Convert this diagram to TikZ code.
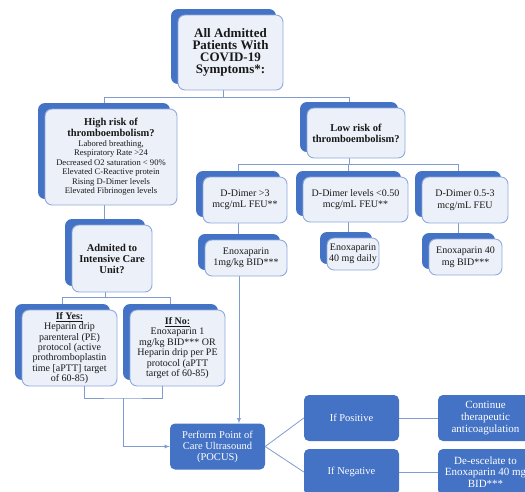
\documentclass[tikz,border=0pt]{standalone}
\usepackage{fontspec}
\setmainfont{Liberation Serif}
\definecolor{tabblue}{RGB}{68,114,196}
\definecolor{cardfill}{RGB}{236,240,248}
\definecolor{cardline}{RGB}{143,170,220}
\definecolor{linkblue}{RGB}{127,155,208}
\newcommand{\hd}[1]{{\fontsize{10.5}{11}\selectfont\bfseries #1}}

\begin{document}
\begin{tikzpicture}[x=1pt,y=-1pt,
    tab/.style={fill=tabblue,rounded corners=7pt,inner sep=0pt},
    card/.style={fill=cardfill,draw=cardline,line width=0.9pt,rounded corners=7pt,inner sep=0pt,align=center,text=black!90},
    fillbox/.style={fill=tabblue,rounded corners=5pt,inner sep=0pt,align=center,text=white,minimum width=95pt,minimum height=46pt,font=\fontsize{10.5}{11}\selectfont},
    link/.style={draw=linkblue,line width=0.8pt},
    >=latex]
    \useasboundingbox (0,0) rectangle (525,491);
    \clip (0,0) rectangle (525,491);

    \node[tab,minimum width=105pt,minimum height=75pt] (toptab) at (223.5,46.5) {};
    \node[tab,minimum width=132pt,minimum height=96pt] (hightab) at (104,151) {};
    \node[tab,minimum width=98pt,minimum height=50pt] (lowtab) at (349,127) {};
    \node[tab,minimum width=80pt,minimum height=67pt] (icutab) at (105,252.5) {};
    \node[tab,minimum width=95pt,minimum height=76pt] (yestab) at (62.5,342) {};
    \node[tab,minimum width=95pt,minimum height=76pt] (notab) at (170.5,342) {};
    \node[tab,minimum width=84pt,minimum height=46pt] (dhightab) at (238,194) {};
    \node[tab,minimum width=105pt,minimum height=45pt] (dlowtab) at (348.5,193.5) {};
    \node[tab,minimum width=86pt,minimum height=46pt] (dmidtab) at (458,194) {};
    \node[tab,minimum width=82pt,minimum height=36pt] (enoxatab) at (239,252) {};
    \node[tab,minimum width=52pt,minimum height=32pt] (enoxbtab) at (346,248) {};
    \node[tab,minimum width=73pt,minimum height=36pt] (enoxctab) at (458.5,251) {};

    \node[fillbox] (pocus) at (217.5,446.5) {Perform Point of\\Care Ultrasound\\(POCUS)};
    \node[fillbox] (pos) at (351.5,418) {If Positive};
    \node[fillbox] (neg) at (351.5,472) {If Negative};
    \node[fillbox,font=\fontsize{11}{11.7}\selectfont] (cont) at (485.5,418) {Continue\\therapeutic\\anticoagulation};
    \node[fillbox,font=\fontsize{11}{11.7}\selectfont] (desc) at (485.5,472) {De-escelate to\\Enoxaparin 40 mg\\BID***};

    \draw[link] (toptab.south) -- ++(0,13) -| (hightab.north);
    \draw[link] (toptab.south) -- ++(0,13) -| (lowtab.north);
    \draw[link] (hightab.south) -- (hightab.south |- icutab.north);
    \draw[link] (icutab.south) -- ++(0,11) -| (yestab.north);
    \draw[link] (icutab.south) -- ++(0,11) -| (notab.north);
    \draw[link] (lowtab.south) -- ++(0,12) -| (dhightab.north);
    \draw[link] (lowtab.south) -- ++(0,12) -| (dlowtab.north);
    \draw[link] (lowtab.south) -- ++(0,12) -| (dmidtab.north);
    \draw[link] (dhightab.south) -- (dhightab.south |- enoxatab.north);
    \draw[link] (dlowtab.south) -- (dlowtab.south |- enoxbtab.north);
    \draw[link] (dmidtab.south) -- (dmidtab.south |- enoxctab.north);
    \draw[link,->] (enoxatab.south) -- (enoxatab.south |- pocus.north);
    \draw[link] (pocus.east) -- (pos.west);
    \draw[link] (pocus.east) -- (neg.west);
    \draw[link] (pos.east) -- (cont.west);
    \draw[link] (neg.east) -- (desc.west);

    \node[card,minimum width=105pt,minimum height=75pt,font=\bfseries\fontsize{13}{12}\selectfont] (top) at (230.5,52.5) {All Admitted\\Patients With\\COVID-19\\Symptoms*:};
    \node[card,minimum width=132pt,minimum height=96pt,font=\fontsize{8.6}{9.5}\selectfont] (high) at (111,157) {\hd{High risk of}\\\hd{thromboembolism?}\\Labored breathing,\\Respiratory Rate >24\\Decreased O2 saturation < 90\%\\Elevated C-Reactive protein\\Rising D-Dimer levels\\Elevated Fibrinogen levels};
    \node[card,minimum width=98pt,minimum height=50pt,font=\bfseries\fontsize{10.5}{11}\selectfont] (low) at (356,133) {Low risk of\\thromboembolism?};
    \node[card,minimum width=80pt,minimum height=67pt,font=\bfseries\fontsize{10.5}{11}\selectfont] (icu) at (112,258.5) {Admited to\\Intensive Care\\Unit?};
    \node[card,minimum width=95pt,minimum height=76pt,font=\fontsize{10}{10.4}\selectfont] (yes) at (69.5,348) {\textbf{\underline{If Yes:}}\\Heparin drip\\parenteral (PE)\\protocol (active\\prothromboplastin\\time [aPTT] target\\of 60-85)};
    \node[card,minimum width=95pt,minimum height=76pt,font=\fontsize{10}{10.4}\selectfont] (no) at (177.5,348) {\textbf{\underline{If No:}}\\Enoxaparin 1\\mg/kg BID*** OR\\Heparin drip per PE\\protocol (aPTT\\target of 60-85)};
    \node[card,minimum width=84pt,minimum height=46pt,font=\fontsize{10}{11.5}\selectfont] (dhigh) at (245,200) {D-Dimer >3\\mcg/mL FEU**};
    \node[card,minimum width=105pt,minimum height=45pt,font=\fontsize{10}{11.5}\selectfont] (dlow) at (355.5,199.5) {D-Dimer levels <0.50\\mcg/mL FEU**};
    \node[card,minimum width=86pt,minimum height=46pt,font=\fontsize{10}{11.5}\selectfont] (dmid) at (465,200) {D-Dimer 0.5-3\\mcg/mL FEU};
    \node[card,minimum width=82pt,minimum height=36pt,font=\fontsize{10}{11.5}\selectfont] (enoxa) at (246,258) {Enoxaparin\\1mg/kg BID***};
    \node[card,minimum width=52pt,minimum height=32pt,font=\fontsize{10}{11.5}\selectfont] (enoxb) at (353,254) {Enoxaparin\\40 mg daily};
    \node[card,minimum width=73pt,minimum height=36pt,font=\fontsize{10}{11.5}\selectfont] (enoxc) at (465.5,257) {Enoxaparin 40\\mg BID***};

    \coordinate (merge) at (123,398);
    \draw[link] ([xshift=14.5pt]yes.south) |- (merge) -| ([xshift=-15.5pt]no.south);
    \draw[link,->] (merge) |- (pocus.west);
\end{tikzpicture}
\end{document}
